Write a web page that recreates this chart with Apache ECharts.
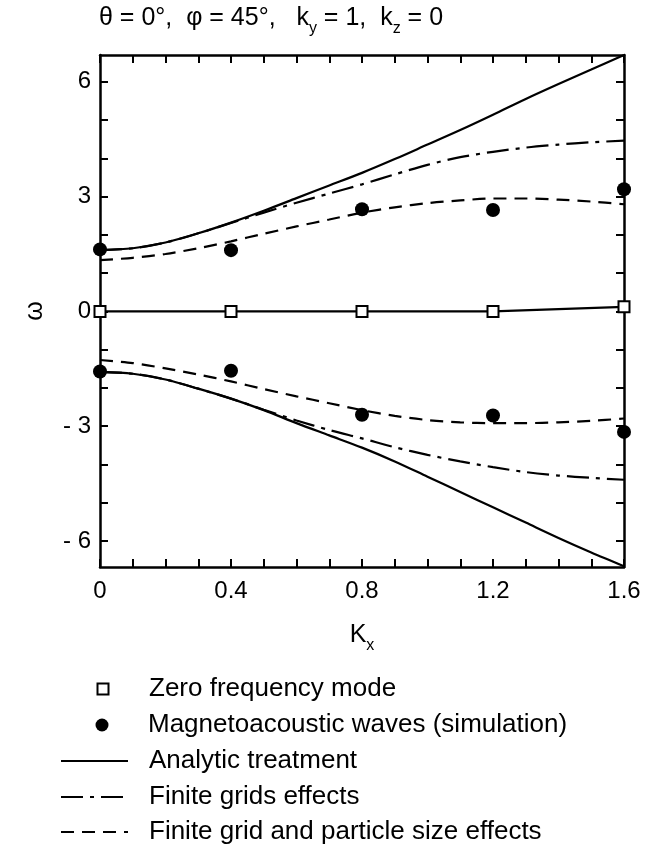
<!DOCTYPE html>
<html><head><meta charset="utf-8">
<script src="https://cdn.jsdelivr.net/npm/echarts@6/dist/echarts.min.js"></script>
<style>html,body{margin:0;padding:0;background:#fff}#c{width:648px;height:846px}</style>
</head><body><div id="c"></div>
<script>
// ---- data ----
const kGrid = [0,0.1,0.2,0.3,0.4,0.5,0.6,0.7,0.8,0.9,1.0,1.1,1.2,1.3,1.4,1.5,1.6];
const analyticUpper = [1.60,1.65,1.80,2.04,2.32,2.63,2.96,3.29,3.62,3.98,4.36,4.74,5.14,5.55,5.94,6.32,6.70];
const analyticLower = [-1.58,-1.63,-1.78,-2.02,-2.28,-2.58,-2.92,-3.24,-3.56,-3.92,-4.32,-4.72,-5.12,-5.52,-5.92,-6.30,-6.66];
const gridUpper = [1.60,1.65,1.80,2.04,2.31,2.58,2.84,3.08,3.32,3.58,3.83,4.03,4.17,4.28,4.36,4.42,4.46];
const gridLower = [-1.58,-1.63,-1.78,-2.02,-2.28,-2.57,-2.85,-3.10,-3.32,-3.55,-3.75,-3.92,-4.07,-4.20,-4.29,-4.35,-4.40];
const particleUpper = [1.34,1.40,1.50,1.65,1.83,2.03,2.22,2.40,2.58,2.72,2.83,2.90,2.95,2.95,2.92,2.87,2.80];
const particleLower = [-1.27,-1.35,-1.49,-1.65,-1.83,-2.03,-2.22,-2.40,-2.58,-2.73,-2.84,-2.90,-2.92,-2.92,-2.90,-2.86,-2.80];
const simK = [0,0.4,0.8,1.2,1.6];
const simUpper = [1.62,1.60,2.67,2.65,3.19];
const simLower = [-1.57,-1.55,-2.70,-2.72,-3.15];
const zeroMode = [0,0,0,0,0.12];
const xTicks = [0,0.1,0.2,0.3,0.4,0.5,0.6,0.7,0.8,0.9,1.0,1.1,1.2,1.3,1.4,1.5,1.6];
const xLabels = [0,0.4,0.8,1.2,1.6];
const yTicks = [-6,-5,-4,-3,-2,-1,0,1,2,3,4,5,6];
const yLabels = [-6,-3,0,3,6];
const names = {
  zero: 'Zero frequency mode',
  sim: 'Magnetoacoustic waves (simulation)',
  analytic: 'Analytic treatment',
  grid: 'Finite grids effects',
  particle: 'Finite grid and particle size effects'
};

// ---- chart ----
const FONT = "'Liberation Sans','DejaVu Sans',sans-serif";
const pair = (xs, ys) => xs.map((x, i) => [x, ys[i]]);
const chart = echarts.init(document.getElementById('c'), null, {renderer: 'canvas'});
const axisLine = {show: true, onZero: false, lineStyle: {color: '#000', width: 2.5}};
const tickIn = (vals) => ({show: true, inside: true, length: 8, customValues: vals, lineStyle: {color: '#000', width: 2}});
const subRich = {
  n: {fontFamily: FONT, fontSize: 25, fontWeight: 'normal', color: '#000', verticalAlign: 'top', lineHeight: 28},
  s: {fontFamily: FONT, fontSize: 16, fontWeight: 'normal', color: '#000', verticalAlign: 'top', lineHeight: 16, padding: [15, 0, 0, 0]}
};
const DASHED = [13, 8];
const DASHDOT = [22, 7, 4, 7];
function lineSeries(name, ys, dash) {
  return {
    name: name, type: 'line', data: pair(kGrid, ys), smooth: 0.3,
    showSymbol: false, symbol: 'none', z: 2,
    lineStyle: {color: '#000', width: 2.2, type: dash}, itemStyle: {color: '#000'}
  };
}
const legendText = (pad) => ({fontFamily: FONT, fontSize: 26, lineHeight: 26, color: '#000', padding: [0, 0, 0, pad]});
function markerLegend(name, rowY, size) {
  return {
    data: [name], orient: 'vertical', padding: 0, left: 102 - size / 2, top: rowY - 13,
    itemWidth: size, itemHeight: size, textStyle: legendText(148 - (102 + size / 2 + 5)),
    selectedMode: false
  };
}
function lineLegend(name, rowY) {
  return {
    data: [name], orient: 'vertical', padding: 0, left: 60, top: rowY - 13,
    itemWidth: 67, itemHeight: 14, textStyle: legendText(16),
    itemStyle: {opacity: 0}, selectedMode: false
  };
}
chart.setOption({
  animation: false,
  backgroundColor: '#fff',
  title: {
    text: '{n|θ = 0°,  φ = 45°,   k}{s|y}{n| = 1,  k}{s|z}{n| = 0}',
    left: 99, top: 6, padding: 0,
    textStyle: {fontWeight: 'normal', rich: subRich}
  },
  grid: {left: 100, right: 24, top: 55, bottom: 279},
  xAxis: [{
    type: 'value', min: 0, max: 1.6, position: 'bottom',
    name: '{n|K}{s|x}', nameLocation: 'middle', nameGap: 56,
    nameTextStyle: {rich: subRich},
    axisLine: axisLine, axisTick: tickIn(xTicks), splitLine: {show: false},
    axisLabel: {customValues: xLabels, margin: 12, fontFamily: FONT, fontSize: 24, color: '#000',
      formatter: v => (v === 0 ? '0' : v.toFixed(1))}
  }, {
    type: 'value', min: 0, max: 1.6, position: 'top',
    axisLine: axisLine, axisTick: tickIn(xTicks), splitLine: {show: false},
    axisLabel: {show: false}
  }],
  yAxis: [{
    type: 'value', min: -6.68, max: 6.7, position: 'left',
    name: 'ω', nameLocation: 'middle', nameRotate: 90, nameGap: 52,
    nameTextStyle: {fontFamily: FONT, fontSize: 25, color: '#000'},
    axisLine: axisLine, axisTick: tickIn(yTicks), splitLine: {show: false},
    axisLabel: {customValues: yLabels, margin: 9, fontFamily: FONT, fontSize: 24, color: '#000',
      formatter: v => (v < 0 ? '- ' + Math.abs(v) : String(v))}
  }, {
    type: 'value', min: -6.68, max: 6.7, position: 'right',
    axisLine: axisLine, axisTick: tickIn(yTicks), splitLine: {show: false},
    axisLabel: {show: false}
  }],
  legend: [
    markerLegend(names.zero, 689, 11),
    markerLegend(names.sim, 725, 13),
    lineLegend(names.analytic, 761),
    lineLegend(names.grid, 797),
    lineLegend(names.particle, 832)
  ],
  series: [
    lineSeries(names.analytic, analyticUpper, 'solid'),
    lineSeries(names.analytic, analyticLower, 'solid'),
    lineSeries(names.grid, gridUpper, DASHDOT),
    lineSeries(names.grid, gridLower, DASHDOT),
    lineSeries(names.particle, particleUpper, DASHED),
    lineSeries(names.particle, particleLower, DASHED),
    {
      name: 'zero-line', type: 'line', data: pair(simK, zeroMode), symbol: 'none', z: 2,
      lineStyle: {color: '#000', width: 2.2}
    },
    {
      name: names.zero, type: 'scatter', data: pair(simK, zeroMode), symbol: 'rect', symbolSize: 11, z: 5,
      itemStyle: {color: '#fff', borderColor: '#000', borderWidth: 2, opacity: 1}
    },
    {
      name: names.sim, type: 'scatter', data: pair(simK, simUpper), symbol: 'circle', symbolSize: 14, z: 5,
      itemStyle: {color: '#000', opacity: 1}
    },
    {
      name: names.sim, type: 'scatter', data: pair(simK, simLower), symbol: 'circle', symbolSize: 14, z: 5,
      itemStyle: {color: '#000', opacity: 1}
    }
  ]
});
</script>
</body></html>
